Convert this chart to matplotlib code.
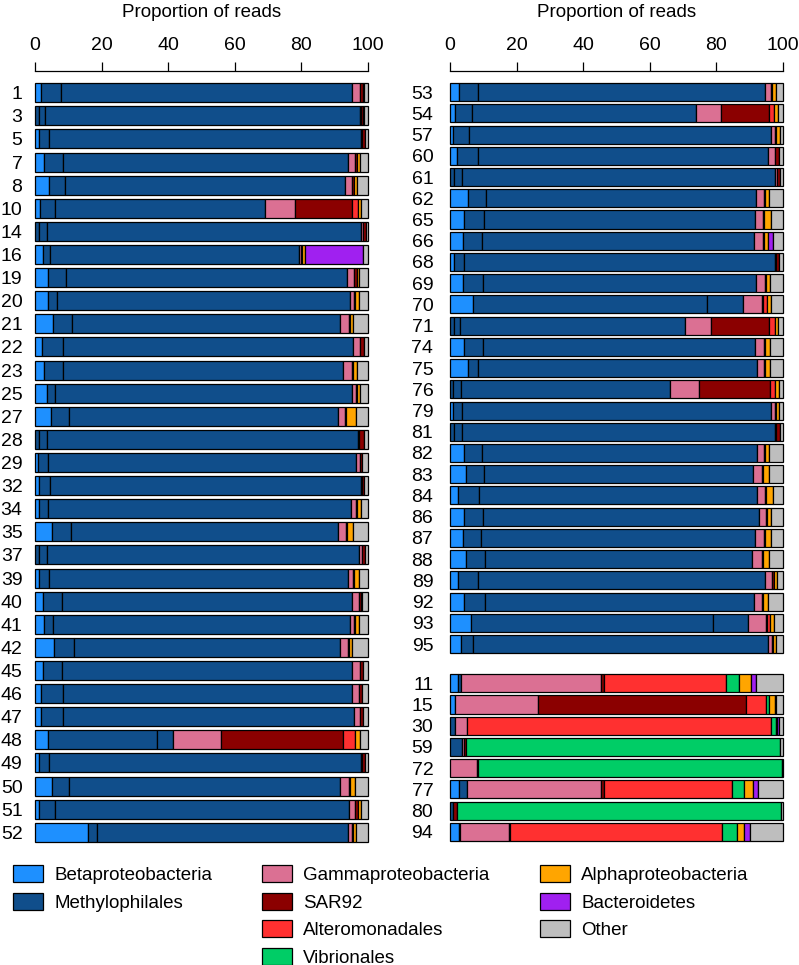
import numpy as np
import matplotlib.pyplot as plt
from matplotlib.patches import Patch

plt.rcParams['font.family'] = ['Liberation Sans', 'DejaVu Sans']

# sample labels: left column | right column (top block) | right column (bottom block)
left_samples = ['1', '3', '5', '7', '8', '10', '14', '16', '19', '20', '21', '22', '23', '25', '27', '28', '29',
                '32', '34', '35', '37', '39', '40', '41', '42', '45', '46', '47', '48', '49', '50', '51', '52']
right_top_samples = ['53', '54', '57', '60', '61', '62', '65', '66', '68', '69', '70', '71', '74', '75',
                     '76', '79', '81', '82', '83', '84', '86', '87', '88', '89', '92', '93', '95']
right_bottom_samples = ['11', '15', '30', '59', '72', '77', '80', '94']

# proportion of reads (%) per taxon, same sample order as above (left | right top | right bottom)
beta = [1.7, 0, 1.3, 2.7, 4.2, 1.5, 0, 2.3, 3.8, 4.0, 5.5, 2.0, 2.8, 3.5, 4.7, 0, 1.0,
        1.3, 1.3, 5.2, 0, 1.3, 2.3, 2.7, 5.8, 2.3, 1.8, 1.8, 3.8, 1.3, 5.0, 1.3, 16.0,
        2.8, 1.5, 1.0, 2.0, 0, 5.3, 4.3, 4.0, 1.2, 4.0, 7.0, 0, 4.3, 5.5,
        0, 1.0, 0, 4.3, 4.8, 2.5, 4.3, 3.8, 4.8, 2.5, 4.3, 6.3, 3.3,
        2.5, 1.5, 0, 0, 0, 2.7, 0, 2.8]
# Methylophilales OTUs (drawn as separate segments)
meth_a = [6.0, 1.3, 3.0, 5.6, 4.8, 4.5, 1.3, 2.2, 5.4, 2.7, 5.5, 6.5, 5.7, 2.5, 5.6, 1.2, 3.0,
          3.2, 2.7, 5.5, 1.2, 3.0, 5.9, 2.6, 5.9, 5.9, 6.5, 6.5, 32.7, 3.0, 5.3, 4.7, 2.5,
          5.7, 5.2, 4.7, 6.5, 1.3, 5.5, 5.9, 5.7, 3.0, 5.8, 70.2, 1.2, 5.5, 2.8,
          1.0, 2.7, 1.3, 5.2, 5.5, 6.2, 5.5, 5.4, 5.7, 5.8, 6.2, 72.7, 3.7,
          0.8, 0, 1.5, 3.5, 0, 2.3, 0.8, 0.3]
meth_b = [87.6, 1.7, 93.5, 85.7, 84.0, 63.2, 2.4, 74.7, 84.6, 87.8, 80.7, 87.0, 84.0, 89.3, 80.7, 2.3, 92.5,
          93.3, 91.0, 80.3, 2.3, 89.7, 87.0, 89.2, 80.0, 87.1, 87.0, 87.4, 5.0, 93.5, 81.2, 88.2, 75.5,
          86.2, 67.3, 90.8, 87.0, 2.4, 81.0, 81.3, 81.6, 93.3, 82.2, 10.8, 1.8, 81.9, 84.0,
          2.3, 92.6, 2.2, 82.7, 80.7, 83.5, 82.9, 82.5, 80.3, 86.4, 80.8, 10.5, 88.5,
          0, 0, 0, 0, 0, 0, 0, 0]
meth_c = [0, 94.6, 0, 0, 0, 0, 94.3, 0, 0, 0, 0, 0, 0, 0, 0, 93.5, 0,
          0, 0, 0, 93.8, 0, 0, 0, 0, 0, 0, 0, 0, 0, 0, 0, 0,
          0, 0, 0, 0, 94.0, 0, 0, 0, 0, 0, 0, 67.5, 0, 0,
          62.9, 0, 94.0, 0, 0, 0, 0, 0, 0, 0, 0, 0, 0,
          0, 0, 0, 0, 0, 0, 0, 0]
gamma = [2.2, 0.2, 0.3, 2.2, 2.3, 8.8, 0.5, 0.8, 2.0, 1.2, 2.6, 2.0, 2.7, 1.2, 2.2, 0.2, 1.0,
         0.3, 1.3, 2.3, 0.9, 1.5, 2.0, 1.3, 2.3, 2.2, 1.9, 1.9, 14.3, 0.4, 2.7, 1.8, 1.2,
         1.8, 7.3, 1.0, 2.2, 0.5, 2.5, 2.5, 2.7, 0.4, 2.5, 5.8, 7.8, 2.5, 2.0,
         8.6, 1.2, 0.5, 2.1, 2.7, 2.3, 2.1, 2.6, 2.9, 2.0, 2.5, 5.3, 1.2,
         42.0, 25.0, 3.5, 0.8, 8.0, 40.2, 0, 14.6]
sar92 = [1.0, 0.6, 1.0, 0.4, 0.5, 17.3, 0.8, 0.3, 1.0, 0.3, 0.3, 1.2, 0.3, 0.3, 0.3, 1.5, 0.7,
         0.8, 0.3, 0.5, 0.8, 0.3, 0.8, 0.3, 0.3, 1.0, 1.0, 0.9, 36.7, 0.8, 0.3, 1.0, 0.3,
         0.3, 14.5, 0.3, 1.0, 0.8, 0.3, 0.3, 0.3, 1.0, 0.3, 0.3, 17.4, 0.3, 0.3,
         21.4, 0.3, 1.0, 0.3, 0.3, 0.3, 0.3, 0.3, 0.3, 0.5, 0.3, 0.3, 0.3,
         0.9, 62.5, 0, 0.6, 0.3, 1.1, 1.2, 0.3]
altero = [0, 0, 0, 0, 0, 1.7, 0, 0, 0, 0, 0, 0, 0, 0, 0, 0, 0,
          0, 0, 0, 0, 0, 0, 0, 0, 0, 0, 0, 3.5, 0, 0, 0, 0,
          0, 1.4, 0, 0, 0, 0, 0, 0, 0, 0, 1.2, 1.8, 0, 0,
          1.5, 0, 0, 0, 0, 0, 0, 0, 0, 0, 0, 1.0, 0,
          36.6, 6.0, 91.5, 0, 0, 38.5, 0, 63.8]
vibrio = [0] * 33 + [0] * 27 + [4.0, 0.8, 1.3, 94.1, 91.4, 3.5, 97.5, 4.4]
alpha = [0.2, 0.5, 0, 1.0, 0.8, 1.0, 0, 0.9, 0.4, 1.4, 0.8, 0, 1.2, 0.7, 3.0, 0, 0,
         0, 1.2, 1.8, 0, 1.5, 0.3, 1.3, 1.0, 0, 0, 0, 1.5, 0, 1.7, 1.0, 1.0,
         1.2, 1.3, 1.2, 0, 0, 1.3, 2.0, 1.2, 0, 1.3, 1.2, 0.9, 1.6, 1.6,
         1.0, 1.0, 0, 1.2, 1.7, 2.2, 1.3, 1.8, 1.7, 1.0, 1.4, 1.3, 1.0,
         3.5, 1.8, 0.3, 0, 0, 2.8, 0, 2.1]
bacteroid = [0, 0, 0, 0, 0, 0, 0, 17.3, 0, 0, 0, 0, 0, 0, 0, 0, 0,
             0, 0, 0, 0, 0, 0, 0, 0, 0, 0, 0, 0, 0, 0, 0, 0,
             0, 0, 0, 0, 0, 0, 0, 1.5, 0, 0, 0, 0, 0, 0,
             0, 0, 0, 0, 0, 0, 0, 0, 0, 0, 0, 0, 0,
             1.5, 0.3, 0.6, 0, 0, 1.3, 0, 1.7]
other = [1.3, 1.1, 0.9, 2.4, 3.4, 2.0, 0.7, 1.5, 2.8, 2.6, 4.6, 1.3, 3.3, 2.5, 3.5, 1.3, 1.8,
         1.1, 2.2, 4.4, 1.0, 2.7, 1.7, 2.6, 4.7, 1.5, 1.8, 1.5, 2.5, 1.0, 3.8, 2.0, 3.5,
         2.0, 1.5, 1.0, 1.3, 1.0, 4.1, 3.7, 3.0, 1.1, 3.9, 3.5, 1.6, 3.9, 3.8,
         1.3, 1.2, 1.0, 4.2, 4.3, 3.0, 3.6, 3.6, 4.3, 1.8, 4.5, 2.6, 2.0,
         8.2, 2.1, 1.3, 1.0, 0.3, 7.6, 0.5, 10.0]

taxa = ['Betaproteobacteria', 'Methylophilales', 'Gammaproteobacteria', 'SAR92',
        'Alteromonadales', 'Vibrionales', 'Alphaproteobacteria', 'Bacteroidetes', 'Other']
colors = {'Betaproteobacteria': '#1E90FF', 'Methylophilales': '#104E8B',
          'Gammaproteobacteria': '#DB7093', 'SAR92': '#8B0000',
          'Alteromonadales': '#FF3030', 'Vibrionales': '#00CD66',
          'Alphaproteobacteria': '#FFA500', 'Bacteroidetes': '#A020F0', 'Other': '#BEBEBE'}

# stacking order of segments
segments = [(beta, 'Betaproteobacteria'), (meth_a, 'Methylophilales'), (meth_b, 'Methylophilales'),
            (meth_c, 'Methylophilales'), (gamma, 'Gammaproteobacteria'), (sar92, 'SAR92'),
            (altero, 'Alteromonadales'), (vibrio, 'Vibrionales'), (alpha, 'Alphaproteobacteria'),
            (bacteroid, 'Bacteroidetes'), (other, 'Other')]

W, H = 799, 965
fig = plt.figure(figsize=(W / 100, H / 100), dpi=100)


def add_axes_px(x0, y0, x1, y1):
    return fig.add_axes([x0 / W, 1 - y1 / H, (x1 - x0) / W, (y1 - y0) / H])


def draw_panel(ax, rows, ypos, labels, height):
    start = np.zeros(len(rows))
    for vals, name in segments:
        v = np.array(vals, dtype=float)[rows]
        keep = v > 0
        ax.barh(ypos[keep], v[keep], left=start[keep], height=height,
                color=colors[name], edgecolor='black', linewidth=0.9, clip_on=False)
        start += v
    ax.set_xlim(0, 100)
    ax.set_yticks(ypos, labels)
    for s in ['left', 'right', 'bottom']:
        ax.spines[s].set_visible(False)
    ax.spines['top'].set_bounds(0, 100)
    ax.spines['top'].set_position(('outward', 8.6))
    ax.spines['top'].set_linewidth(0.9)
    ax.xaxis.tick_top()
    ax.set_xticks(range(0, 101, 20))
    ax.tick_params(axis='x', direction='out', length=6.5, width=0.9, pad=6, labelsize=14)
    ax.tick_params(axis='y', length=0, pad=9, labelsize=14)
    ax.xaxis.set_label_position('top')
    ax.set_xlabel('Proportion of reads', fontsize=13.5, labelpad=14)


n_left = len(left_samples)
n_rt = len(right_top_samples)
n_rb = len(right_bottom_samples)

# left column
ax_l = add_axes_px(35, 83, 368, 842)
left_pos = np.arange(n_left, dtype=float)
draw_panel(ax_l, np.arange(n_left), left_pos, left_samples, 0.82)
ax_l.set_ylim(n_left - 1 + 0.42, -0.42)

# right column (two blocks separated by a gap)
ax_r = add_axes_px(450, 83, 783, 841)
right_pos = np.r_[np.arange(n_rt), n_rt + 0.85 + np.arange(n_rb)].astype(float)
right_rows = np.arange(n_left, n_left + n_rt + n_rb)
draw_panel(ax_r, right_rows, right_pos, right_top_samples + right_bottom_samples, 0.85)
ax_r.set_ylim(right_pos[-1] + 0.43, -0.43)
ax_r.tick_params(axis='y', pad=12)

# legend in three columns
legend_cols = [taxa[0:2], taxa[2:6], taxa[6:9]]
legend_x = [13, 262, 540]
for names, lx in zip(legend_cols, legend_x):
    handles = [Patch(facecolor=colors[n], edgecolor='black', linewidth=0.9, label=n) for n in names]
    fig.legend(handles=handles, loc='upper left', bbox_to_anchor=(lx / W, 1 - 865 / H),
               frameon=False, borderpad=0, borderaxespad=0, fontsize=13.5,
               handlelength=1.6, handleheight=1.05, handletextpad=0.6, labelspacing=0.45)

fig.savefig('out.png', dpi=100)
